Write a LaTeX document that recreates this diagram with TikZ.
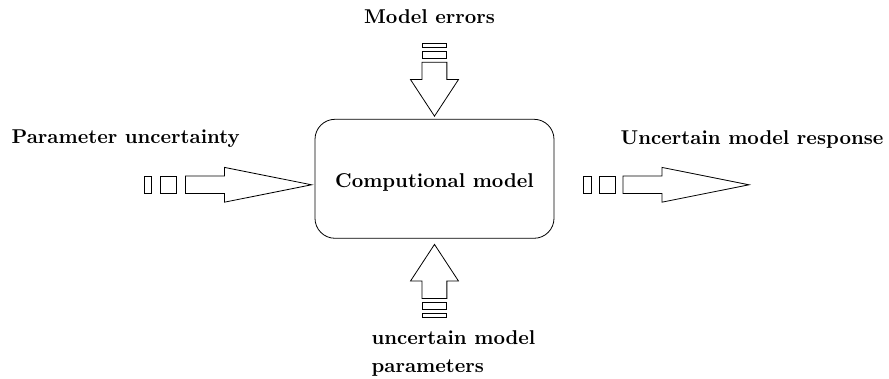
\documentclass[tikz,border=0pt]{standalone}
\usetikzlibrary{positioning,shapes.arrows}

\begin{document}
\begin{tikzpicture}[font=\bfseries,
        model/.style={draw, rectangle, rounded corners=10pt, minimum width=119.5pt, minimum height=59.5pt, text height=11pt},
        harrow/.style={draw, single arrow, inner sep=4.2pt, single arrow head extend=4.3pt, single arrow tip angle=22.6, minimum height=63pt},
        varrow/.style={draw, single arrow, inner sep=6pt, single arrow head extend=5.8pt, single arrow tip angle=66.5, minimum height=27pt},
        hbar/.style={draw, rectangle, inner sep=0pt, minimum height=8.4pt},
        vbar/.style={draw, rectangle, inner sep=0pt, minimum width=12pt},
        lbl/.style={inner sep=0pt}]
        \useasboundingbox (-217.25pt,89.4pt) rectangle (227.25pt,-100.1pt);

        \node[model] (model) at (0,0) {Computional model};

        % left input
        \node[harrow, left=0.5pt of model, yshift=-3pt] (uncarrow) {};
        \node[hbar, minimum width=8pt, left=4pt of uncarrow] (uncbar2) {};
        \node[hbar, minimum width=3.5pt, left=4.5pt of uncbar2] (uncbar1) {};
        \node[lbl, above=13.8pt of uncbar2, xshift=-21.5pt] (unclbl) {Parameter uncertainty};

        % top input
        \node[varrow, shape border rotate=270, above=1pt of model] (errarrow) {};
        \node[vbar, minimum height=3.5pt, above=1.5pt of errarrow] (errbar2) {};
        \node[vbar, minimum height=2pt, above=1.5pt of errbar2] (errbar1) {};
        \node[lbl, above=9.5pt of errbar1, xshift=-2.5pt] (errlbl) {Model errors};

        % bottom input
        \node[varrow, shape border rotate=90, below=2.5pt of model] (modparrow) {};
        \node[vbar, minimum height=3.5pt, below=1.5pt of modparrow] (modpbar1) {};
        \node[vbar, minimum height=2pt, below=1.5pt of modpbar1] (modpbar2) {};
        \node[lbl, align=left, below=6.5pt of modpbar2, xshift=9.5pt] (modplbl) {uncertain model\\[2pt] parameters};

        % output
        \node[hbar, minimum width=4pt, right=14.3pt of model, yshift=-3pt] (respbar1) {};
        \node[hbar, minimum width=8pt, right=3.5pt of respbar1] (respbar2) {};
        \node[harrow, right=3.5pt of respbar2] (resparrow) {};
        \node[lbl, above=18pt of resparrow.tip, xshift=0.5pt] (resplbl) {Uncertain model response};
    \end{tikzpicture}
\end{document}
